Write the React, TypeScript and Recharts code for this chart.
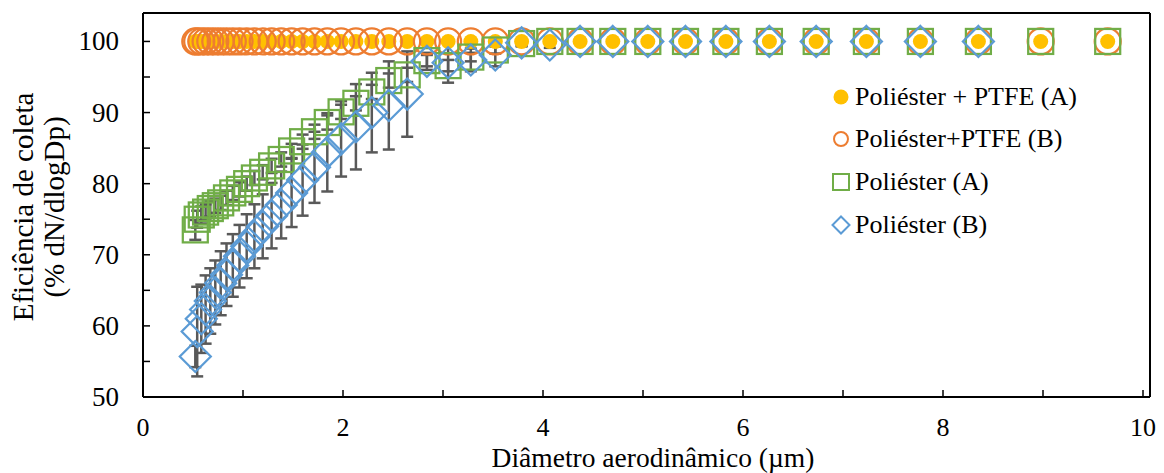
import React from 'react';
import { ScatterChart, Scatter, XAxis, YAxis, ErrorBar, Legend, ReferenceLine } from 'recharts';

const diameters = [0.523, 0.542, 0.583, 0.626, 0.673, 0.723, 0.777, 0.835, 0.898, 0.965, 1.037, 1.114, 1.197, 1.286, 1.382, 1.486, 1.596, 1.715, 1.843, 1.981, 2.129, 2.288, 2.458, 2.642, 2.839, 3.051, 3.278, 3.523, 3.786, 4.068, 4.371, 4.698, 5.048, 5.425, 5.829, 6.264, 6.732, 7.234, 7.774, 8.354, 8.977, 9.647];

const ptfeA = [100, 100, 100, 100, 100, 100, 100, 100, 100, 100, 100, 100, 100, 100, 100, 100, 100, 100, 100, 100, 100, 100, 100, 100, 100, 100, 100, 100, 100, 100, 100, 100, 100, 100, 100, 100, 100, 100, 100, 100, 100, 100];
const ptfeB = [100, 100, 100, 100, 100, 100, 100, 100, 100, 100, 100, 100, 100, 100, 100, 100, 100, 100, 100, 100, 100, 100, 100, 100, 100, 100, 100, 100, 100, 100, 100, 100, 100, 100, 100, 100, 100, 100, 100, 100, 100, 100];

const poliA = [73.5, 75.0, 75.6, 76.0, 76.5, 76.9, 77.3, 78.0, 78.7, 79.2, 80.0, 80.8, 81.6, 82.5, 83.4, 84.6, 85.9, 87.3, 88.6, 90.1, 91.3, 92.9, 94.5, 95.3, 97.3, 96.6, 97.8, 98.8, 99.7, 100, 100, 100, 100, 100, 100, 100, 100, 100, 100, 100, 100, 100];
const poliAErr = [1.4, 1.2, 1.2, 1.1, 1.1, 1.0, 1.0, 1.0, 1.0, 1.0, 1.0, 1.0, 1.0, 1.0, 1.0, 1.0, 1.0, 1.0, 1.0, 1.0, 1.0, 1.0, 1.0, 1.0, 0.8, 0.8, 0.6, 0.5, 0.3, 0, 0, 0, 0, 0, 0, 0, 0, 0, 0, 0, 0, 0];

const poliB = [55.7, 59.2, 61.0, 62.3, 63.5, 64.7, 66.0, 67.2, 68.5, 69.8, 71.2, 72.6, 74.0, 75.5, 77.0, 78.7, 80.5, 82.3, 84.4, 86.3, 88.0, 90.0, 91.0, 92.6, 97.2, 97.0, 97.4, 98.1, 99.8, 99.5, 100, 100, 100, 100, 100, 100, 100, 100, 100, 100];
const poliBErr = [1.5, 6.3, 4.8, 4.8, 4.6, 4.5, 4.5, 4.4, 4.4, 4.4, 4.5, 4.5, 4.5, 4.6, 4.7, 4.8, 5.0, 5.0, 5.5, 5.3, 6.0, 5.6, 6.2, 6.0, 1.2, 2.8, 1.6, 1.6, 0.5, 0.4, 0, 0, 0, 0, 0, 0, 0, 0, 0, 0];

const xTicks = [0, 1, 2, 3, 4, 5, 6, 7, 8, 9, 10];
const yTicks = [50, 55, 60, 65, 70, 75, 80, 85, 90, 95, 100];

const seriesNames = ['Poliéster + PTFE (A)', 'Poliéster+PTFE (B)', 'Poliéster (A)', 'Poliéster (B)'];
const xTitle = 'Diâmetro aerodinâmico (µm)';
const yTitle1 = 'Eficiência de coleta';
const yTitle2 = '(% dN/dlogDp)';

const FONT = '"Liberation Serif", "Times New Roman", Times, serif';
const YELLOW = '#FFC000';
const ORANGE = '#ED7D31';
const GREEN = '#70AD47';
const BLUE = '#5B9BD5';

const build = (ys: number[], errs?: number[]) =>
  ys.map((y, i) => ({ x: diameters[i], y, err: errs ? errs[i] : 0 }));

const dataPtfeA = build(ptfeA);
const dataPtfeB = build(ptfeB);
const dataPoliA = build(poliA, poliAErr);
const dataPoliB = build(poliB, poliBErr);

const FilledCircle = (p: any) => <circle cx={p.cx} cy={p.cy} r={7.5} fill={YELLOW} />;
const RingCircle = (p: any) => (
  <circle cx={p.cx} cy={p.cy} r={13} fill="none" stroke={ORANGE} strokeWidth={2.25} />
);
const Square = (p: any) => (
  <rect x={p.cx - 12.5} y={p.cy - 12.5} width={25} height={25} fill="none" stroke={GREEN} strokeWidth={2.25} />
);
const Diamond = (p: any) => {
  const h = 15.5;
  return (
    <polygon
      points={`${p.cx},${p.cy - h} ${p.cx + h},${p.cy} ${p.cx},${p.cy + h} ${p.cx - h},${p.cy}`}
      fill="none"
      stroke={BLUE}
      strokeWidth={2.25}
    />
  );
};

const XTick = (p: any) => {
  const { x, y, payload } = p;
  const v = payload.value;
  return (
    <g>
      <line x1={x} y1={y} x2={x} y2={y - 7} stroke="#000" strokeWidth={1.5} />
      {v % 2 === 0 && (
        <text x={x} y={y + 39} textAnchor="middle" fontSize={26} fontFamily={FONT} fill="#000">
          {v}
        </text>
      )}
    </g>
  );
};

const YTick = (p: any) => {
  const { x, y, payload } = p;
  const v = payload.value;
  return (
    <g>
      <line x1={x} y1={y} x2={x + 7} y2={y} stroke="#000" strokeWidth={1.5} />
      {v % 10 === 0 && (
        <text x={x - 24} y={y + 9} textAnchor="end" fontSize={27} fontFamily={FONT} fill="#000">
          {v}
        </text>
      )}
    </g>
  );
};

const legendMarkers = [
  <circle cx={12} cy={12} r={7.5} fill={YELLOW} />,
  <circle cx={12} cy={12} r={7} fill="none" stroke={ORANGE} strokeWidth={2} />,
  <rect x={4} y={4} width={16} height={16} fill="none" stroke={GREEN} strokeWidth={2} />,
  <polygon points="12,3.5 20.5,12 12,20.5 3.5,12" fill="none" stroke={BLUE} strokeWidth={2} />,
];

const LegendBox = () => (
  <div style={{ fontFamily: FONT, fontSize: 26, color: '#000' }}>
    {seriesNames.map((name, i) => (
      <div key={name} style={{ display: 'flex', alignItems: 'center', height: 42.8, whiteSpace: 'nowrap' }}>
        <svg width={24} height={24} style={{ marginRight: 2, flex: 'none' }}>
          {legendMarkers[i]}
        </svg>
        <span style={{ fontFamily: FONT }}>{name}</span>
      </div>
    ))}
  </div>
);

export default function App() {
  return (
    <div style={{ position: 'absolute', left: 0, top: 0, width: 1164, height: 473, background: '#fff' }}>
      <ScatterChart width={1164} height={473} margin={{ top: 13, right: 14, left: 0, bottom: 0 }}>
        <XAxis
          type="number"
          dataKey="x"
          domain={[0, 10.07]}
          ticks={xTicks}
          interval={0}
          allowDataOverflow
          height={76}
          tickSize={0}
          tickMargin={0}
          tickLine={false}
          axisLine={{ stroke: '#000', strokeWidth: 2 }}
          tick={<XTick />}
        />
        <YAxis
          type="number"
          dataKey="y"
          domain={[50, 104]}
          ticks={yTicks}
          interval={0}
          allowDataOverflow
          width={143}
          tickSize={0}
          tickMargin={0}
          tickLine={false}
          axisLine={{ stroke: '#000', strokeWidth: 2 }}
          tick={<YTick />}
        />
        <ReferenceLine y={104} stroke="#000" strokeWidth={2} />
        <ReferenceLine x={10.07} stroke="#000" strokeWidth={2} />
        <Scatter name={seriesNames[0]} data={dataPtfeA} shape={FilledCircle} isAnimationActive={false} />
        <Scatter name={seriesNames[1]} data={dataPtfeB} shape={RingCircle} isAnimationActive={false} />
        <Scatter name={seriesNames[2]} data={dataPoliA} shape={Square} isAnimationActive={false}>
          <ErrorBar dataKey="err" direction="y" width={6} stroke="#595959" strokeWidth={2.5} />
        </Scatter>
        <Scatter name={seriesNames[3]} data={dataPoliB} shape={Diamond} isAnimationActive={false}>
          <ErrorBar dataKey="err" direction="y" width={6} stroke="#595959" strokeWidth={2.5} />
        </Scatter>
        <Legend
          layout="vertical"
          align="center"
          verticalAlign="middle"
          wrapperStyle={{ left: 829, top: 75.3, width: 320, height: 172, fontFamily: FONT }}
          content={() => <LegendBox />}
        />
      </ScatterChart>
      <svg
        width={1164}
        height={473}
        style={{ position: 'absolute', left: 0, top: 0, pointerEvents: 'none' }}
      >
        <text transform="translate(33,207) rotate(-90)" textAnchor="middle" fontSize={29} fontFamily={FONT} fill="#000">
          {yTitle1}
        </text>
        <text transform="translate(64,207) rotate(-90)" textAnchor="middle" fontSize={29} fontFamily={FONT} fill="#000">
          {yTitle2}
        </text>
        <text x={653} y={466.5} textAnchor="middle" fontSize={27.5} fontFamily={FONT} fill="#000">
          {xTitle}
        </text>
      </svg>
    </div>
  );
}
